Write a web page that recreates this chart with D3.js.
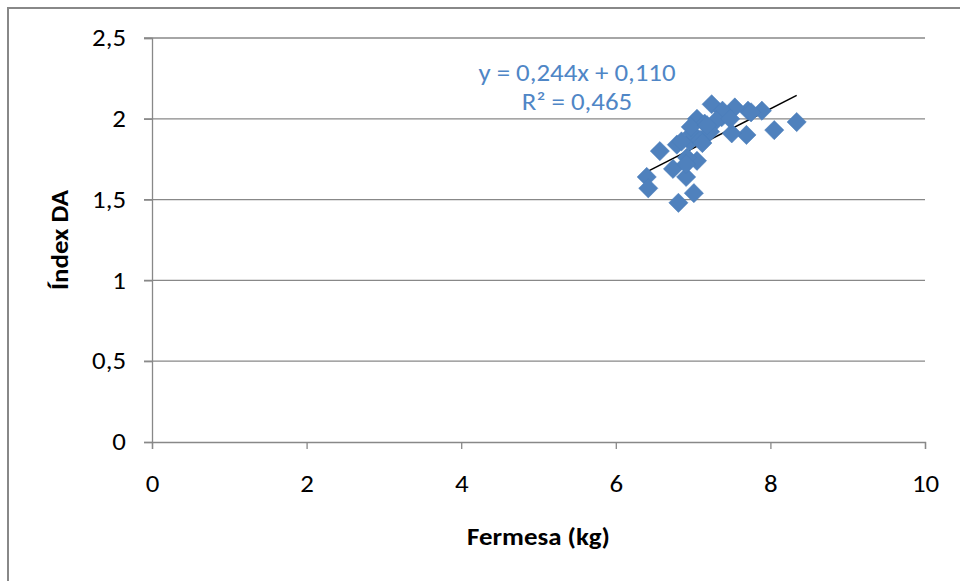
<!DOCTYPE html>
<html>
<head>
<meta charset="utf-8">
<script src="https://cdn.jsdelivr.net/npm/d3@7"></script>
<style>
  body { margin: 0; background: #fff; }
  text { font-family: Calibri, Carlito, "Open Sans", "Liberation Sans", sans-serif; }
</style>
</head>
<body>
<div id="chart"></div>
<script>
// Fermesa (kg) vs Índex DA
const fermesa = [6.40, 6.42, 6.81, 7.01, 6.91, 6.74, 7.05, 6.92, 6.57, 6.79,
                 6.96, 8.34, 8.05, 7.69, 7.50, 7.89, 7.71, 7.54, 7.24, 7.37,
                 7.05, 7.38, 7.75, 7.15, 7.30, 7.48, 6.99, 7.22, 6.85, 7.09,
                 6.91, 7.12, 6.97, 7.18];
const indexDA = [1.64, 1.57, 1.48, 1.54, 1.64, 1.69, 1.74, 1.76, 1.80, 1.84,
                 1.86, 1.98, 1.93, 1.90, 1.91, 2.05, 2.05, 2.07, 2.09, 2.01,
                 2.00, 2.05, 2.04, 1.97, 1.99, 2.00, 1.91, 1.92, 1.86, 1.87,
                 1.72, 1.85, 1.95, 1.96];
const xTicks = [0, 2, 4, 6, 8, 10];
const yTicks = [0, 0.5, 1, 1.5, 2, 2.5];
const eqText = ["y = 0,244x + 0,110", "R² = 0,465"];
const slope = 0.244, intercept = 0.110;

const width = 960, height = 581;
const margin = { top: 38, right: 35, bottom: 139, left: 152 };
const fontSize = 24;
const sx = 1.12; // el text original és una mica eixamplat

const loc = d3.formatLocale({ decimal: ",", thousands: ".", grouping: [3], currency: ["", "€"] });
const fmt = d => loc.format("~g")(d);

const svg = d3.select("#chart").append("svg")
    .attr("width", width)
    .attr("height", height);

// marc exterior
svg.append("path")
    .attr("d", `M8,${height} L8,8 L${width},8`)
    .attr("fill", "none")
    .attr("stroke", "#888")
    .attr("stroke-width", 2);

const x = d3.scaleLinear().domain([0, 10]).range([margin.left, width - margin.right]);
const y = d3.scaleLinear().domain([0, 2.5]).range([height - margin.bottom, margin.top]);

// línies de graella
svg.append("g")
    .selectAll("line")
    .data(yTicks.slice(1))
    .enter()
    .append("line")
    .attr("x1", x(0) - 8)
    .attr("x2", x(10))
    .attr("y1", d => y(d))
    .attr("y2", d => y(d))
    .attr("stroke", "#888")
    .attr("stroke-width", 1.3);

// eix Y
const yAxis = svg.append("g")
    .attr("transform", `translate(${x(0)},0)`)
    .call(d3.axisLeft(y).tickValues(yTicks).tickFormat(fmt).tickSize(8).tickPadding(18));

// eix X
const xAxis = svg.append("g")
    .attr("transform", `translate(0,${y(0)})`)
    .call(d3.axisBottom(x).tickValues(xTicks).tickFormat(fmt).tickSize(7).tickPadding(26));

[yAxis, xAxis].forEach(a => {
    a.attr("font-size", fontSize).attr("font-family", null);
    a.select(".domain").attr("stroke", "#888").attr("stroke-width", 1.3);
    a.selectAll(".tick line").attr("stroke", "#888").attr("stroke-width", 1.3);
    a.selectAll(".tick text").attr("fill", "#000");
});
yAxis.selectAll(".tick text")
    .attr("x", -26 / sx)
    .attr("transform", `scale(${sx},1)`);
xAxis.selectAll(".tick text")
    .attr("transform", `scale(${sx},1)`);

// línia de tendència
const xMin = d3.min(fermesa), xMax = d3.max(fermesa);
svg.append("line")
    .attr("x1", x(xMin))
    .attr("y1", y(slope * xMin + intercept))
    .attr("x2", x(xMax))
    .attr("y2", y(slope * xMax + intercept))
    .attr("stroke", "#000")
    .attr("stroke-width", 1.5);

// punts
const diamond = d3.symbol().type(d3.symbolSquare).size(185);
svg.append("g")
    .selectAll("path")
    .data(fermesa.map((f, i) => [f, indexDA[i]]))
    .enter()
    .append("path")
    .attr("d", diamond)
    .attr("transform", d => `translate(${x(d[0])},${y(d[1])}) rotate(45)`)
    .attr("fill", "#4F81BD")
    .attr("stroke", "#4A7EBB")
    .attr("stroke-width", 0.5);

// equació
svg.append("g")
    .selectAll("text")
    .data(eqText)
    .enter()
    .append("text")
    .attr("transform", (d, i) => `translate(577,${81 + i * 29}) scale(${sx},1)`)
    .attr("text-anchor", "middle")
    .attr("fill", "#4F86C6")
    .style("font-size", fontSize + "px")
    .text(d => d);

// títols d'eixos
svg.append("text")
    .attr("transform", `translate(${x(5)},545) scale(${sx},1)`)
    .attr("text-anchor", "middle")
    .style("font-size", fontSize + "px")
    .style("font-weight", "bold")
    .text("Fermesa (kg)");

svg.append("text")
    .attr("transform", `translate(68,${(y(0) + y(2.5)) / 2}) rotate(-90) scale(${sx},1)`)
    .attr("text-anchor", "middle")
    .style("font-size", fontSize + "px")
    .style("font-weight", "bold")
    .text("Índex DA");
</script>
</body>
</html>
